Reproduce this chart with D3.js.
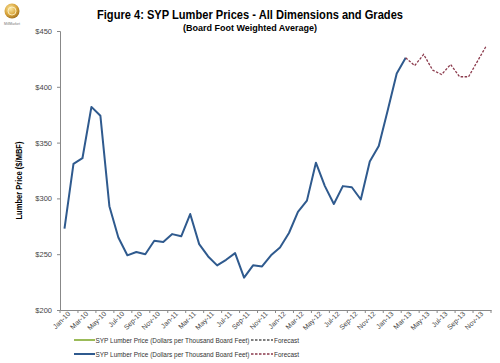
<!DOCTYPE html>
<html>
<head>
<meta charset="utf-8">
<script src="https://cdn.jsdelivr.net/npm/d3@7"></script>
<style>
  body { margin: 0; background: #fff; }
  svg { display: block; font-family: "Liberation Sans", Arial, sans-serif; }
</style>
</head>
<body>
<div id="chart"></div>
<script>
// categories Jan-10 .. Dec-13
const months = [
  "Jan-10","Feb-10","Mar-10","Apr-10","May-10","Jun-10","Jul-10","Aug-10","Sep-10","Oct-10","Nov-10","Dec-10",
  "Jan-11","Feb-11","Mar-11","Apr-11","May-11","Jun-11","Jul-11","Aug-11","Sep-11","Oct-11","Nov-11","Dec-11",
  "Jan-12","Feb-12","Mar-12","Apr-12","May-12","Jun-12","Jul-12","Aug-12","Sep-12","Oct-12","Nov-12","Dec-12",
  "Jan-13","Feb-13","Mar-13","Apr-13","May-13","Jun-13","Jul-13","Aug-13","Sep-13","Oct-13","Nov-13","Dec-13"
];

// actual prices Jan-10 .. Mar-13
const actualPrices = [
  273, 331, 336, 382, 374, 293, 265, 249, 252, 250, 262, 261,
  268, 266, 286, 259, 248, 240, 245, 251, 229, 240, 239, 249,
  256, 269, 288, 298, 332, 311, 295, 311, 310, 299, 333, 347,
  379, 412, 426
];

// forecast Mar-13 .. Dec-13
const forecastPrices = [426, 419, 429, 415, 411, 420, 409, 409, 423, 437];
const forecastStart = 38;

const yTicks = [200, 250, 300, 350, 400, 450];
const xTickLabels = months.filter((m, i) => i % 2 === 0);

const W = 500, H = 363;
const plot = {left: 60, right: 491, top: 31, bottom: 310};

const svg = d3.select("#chart").append("svg")
    .attr("width", W)
    .attr("height", H);

// logo
const logo = svg.append("g").attr("transform", "translate(12,11)");
const grad = svg.append("defs").append("radialGradient")
    .attr("id", "gold").attr("cx", "40%").attr("cy", "35%").attr("r", "70%");
grad.append("stop").attr("offset", "0%").attr("stop-color", "#fbe7a0");
grad.append("stop").attr("offset", "60%").attr("stop-color", "#d9a53c");
grad.append("stop").attr("offset", "100%").attr("stop-color", "#9a6a1c");
logo.append("circle").attr("r", 7.5).attr("fill", "url(#gold)");
logo.append("circle").attr("r", 4).attr("fill", "none").attr("stroke", "#fff6d0").attr("stroke-width", 0.8);
logo.append("text").attr("y", 14).attr("text-anchor", "middle")
    .attr("font-size", 3.5).attr("fill", "#777").text("MillMarket");

// title
svg.append("text")
    .attr("x", 250).attr("y", 18.5)
    .attr("text-anchor", "middle")
    .attr("font-weight", "bold")
    .attr("font-size", 13)
    .attr("textLength", 306)
    .attr("lengthAdjust", "spacingAndGlyphs")
    .attr("fill", "#000")
    .text("Figure 4: SYP Lumber Prices - All Dimensions and Grades");

svg.append("text")
    .attr("x", 250).attr("y", 31)
    .attr("text-anchor", "middle")
    .attr("font-weight", "bold")
    .attr("font-size", 9.5)
    .attr("textLength", 134)
    .attr("lengthAdjust", "spacingAndGlyphs")
    .attr("fill", "#000")
    .text("(Board Foot Weighted Average)");

// scales
const x = d3.scaleBand()
    .domain(months)
    .range([plot.left, plot.right])
    .padding(0);

const y = d3.scaleLinear()
    .domain([200, 450])
    .range([plot.bottom, plot.top]);

const cx = m => x(m) + x.bandwidth() / 2;

// y axis
const yAxis = svg.append("g")
    .attr("transform", `translate(${plot.left},0)`)
    .call(d3.axisLeft(y).tickValues(yTicks).tickSize(3).tickPadding(5).tickFormat(d => "$" + d));
yAxis.select(".domain").attr("stroke", "#888");
yAxis.selectAll(".tick line").attr("stroke", "#888");
yAxis.selectAll("text").attr("font-size", 7.5).attr("fill", "#444");

// x axis
const xAxis = svg.append("g")
    .attr("transform", `translate(0,${plot.bottom})`)
    .call(d3.axisBottom(x).tickValues(xTickLabels).tickSize(0).tickPadding(4));
xAxis.select(".domain").attr("stroke", "#888");
xAxis.selectAll("text")
    .attr("font-size", 7)
    .attr("fill", "#444")
    .attr("text-anchor", "end")
    .attr("dx", "0.2em")
    .attr("dy", "0.5em")
    .attr("transform", "rotate(-45)");

// boundary tick marks every two months
const boundaryTicks = months.filter((m, i) => i % 2 === 0).map(m => x(m)).concat([plot.right]);
xAxis.selectAll("line.btick")
    .data(boundaryTicks)
    .enter()
    .append("line")
    .attr("class", "btick")
    .attr("x1", d => d).attr("x2", d => d)
    .attr("y1", 0).attr("y2", 3)
    .attr("stroke", "#888");

// y axis title
svg.append("text")
    .attr("transform", `translate(22,${(plot.top + plot.bottom) / 2 + 10}) rotate(-90)`)
    .attr("text-anchor", "middle")
    .attr("font-weight", "bold")
    .attr("font-size", 8.5)
    .attr("textLength", 78)
    .attr("lengthAdjust", "spacingAndGlyphs")
    .text("Lumber Price ($/MBF)");

// lines
const line = d3.line()
    .x(d => cx(d.m))
    .y(d => y(d.v));

const actualData = actualPrices.map((v, i) => ({m: months[i], v}));
const forecastData = forecastPrices.map((v, i) => ({m: months[forecastStart + i], v}));

svg.append("path")
    .datum(actualData)
    .attr("fill", "none")
    .attr("stroke", "#2f5a8e")
    .attr("stroke-width", 2)
    .attr("stroke-linejoin", "round")
    .attr("d", line);

svg.append("path")
    .datum(forecastData)
    .attr("fill", "none")
    .attr("stroke", "#8b3a4c")
    .attr("stroke-width", 1.3)
    .attr("stroke-dasharray", "2.5,1.5")
    .attr("d", line);

// legend
const legendRows = [
  {solid: "#9bbb59", dash: "#555555", y: 340},
  {solid: "#2f5a8e", dash: "#8b3a4c", y: 354}
];
const lg = svg.append("g")
    .attr("font-size", 7.5)
    .attr("fill", "#333");
legendRows.forEach(r => {
  lg.append("line").attr("x1", 74).attr("x2", 95).attr("y1", r.y).attr("y2", r.y)
    .attr("stroke", r.solid).attr("stroke-width", 2);
  lg.append("text").attr("x", 95.5).attr("y", r.y + 2.5)
    .attr("textLength", 154).attr("lengthAdjust", "spacingAndGlyphs")
    .text("SYP Lumber Price (Dollars per Thousand Board Feet)");
  lg.append("line").attr("x1", 251).attr("x2", 273).attr("y1", r.y).attr("y2", r.y)
    .attr("stroke", r.dash).attr("stroke-width", 1.3).attr("stroke-dasharray", "2.5,1.5");
  lg.append("text").attr("x", 274).attr("y", r.y + 2.5)
    .attr("textLength", 25).attr("lengthAdjust", "spacingAndGlyphs")
    .text("Forecast");
});
</script>
</body>
</html>
